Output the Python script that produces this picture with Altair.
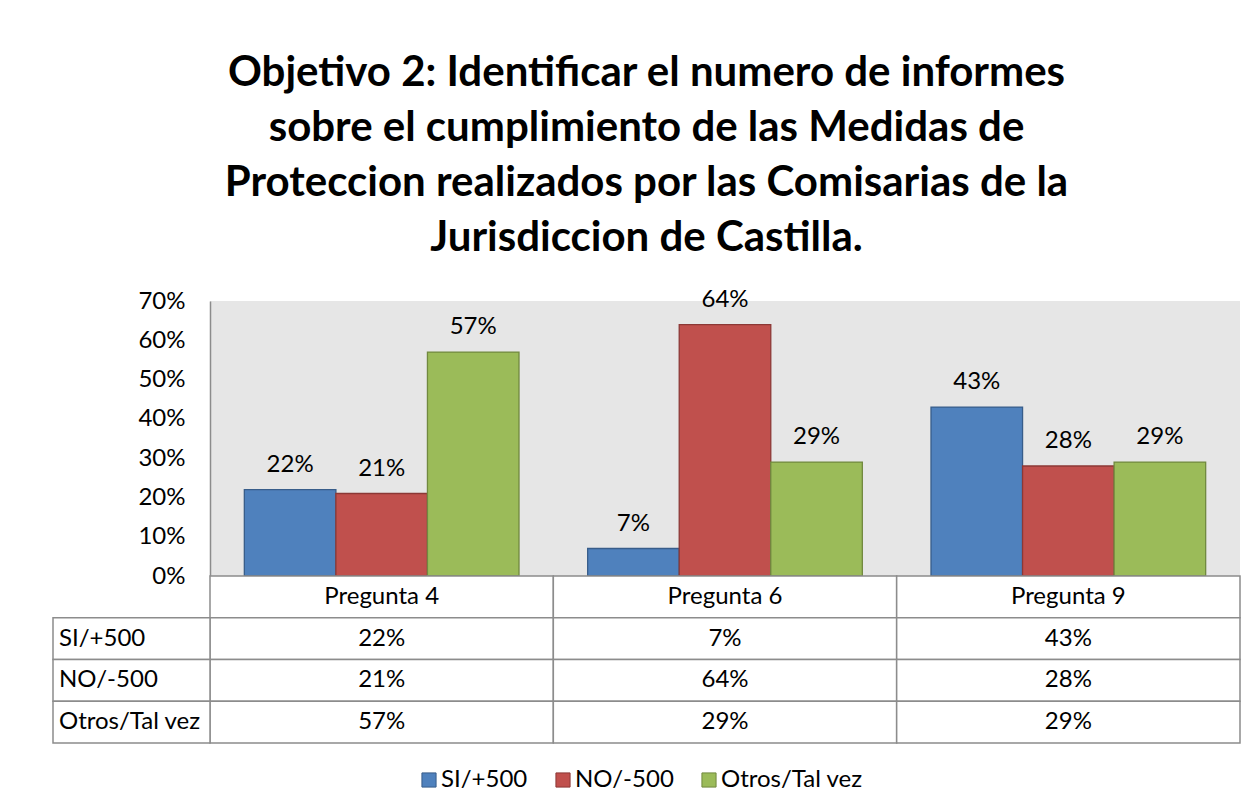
import altair as alt
import pandas as pd

questions = ["Pregunta 4", "Pregunta 6", "Pregunta 9"]
series = ["SI/+500", "NO/-500", "Otros/Tal vez"]
si_vals = [0.22, 0.07, 0.43]
no_vals = [0.21, 0.64, 0.28]
otros_vals = [0.57, 0.29, 0.29]
y_ticks = [0, 0.1, 0.2, 0.3, 0.4, 0.5, 0.6, 0.7]
title_lines = [
    "Objetivo 2: Identificar el numero de informes",
    "sobre el cumplimiento de las Medidas de",
    "Proteccion realizados por las Comisarias de la",
    "Jurisdiccion de Castilla.",
]
fills = ["#4F81BD", "#C0504D", "#9BBB59"]
strokes = ["#385D8A", "#8C3836", "#71893F"]

FONT = "Lato"
FS = 24
GRID = "#8c8c8c"
LABEL_W = 157

values = {"SI/+500": si_vals, "NO/-500": no_vals, "Otros/Tal vez": otros_vals}
rows = []
for s in series:
    for q, v in zip(questions, values[s]):
        rows.append({"question": q, "series": s, "value": v})
df = pd.DataFrame(rows)

row_keys = ["header"] + series
trows = []
for q in questions:
    trows.append({"question": q, "row": "header", "label": q})
for s in series:
    for q, v in zip(questions, values[s]):
        trows.append({"question": q, "row": s, "label": f"{round(v * 100)}%"})
tdf = pd.DataFrame(trows)
ldf = pd.DataFrame({"row": series})

legend = alt.Legend(
    title=None, orient="none", direction="horizontal",
    legendX=207, legendY=467,
    symbolType="square", symbolSize=200, symbolStrokeWidth=1,
    labelFont=FONT, labelFontSize=FS, labelColor="black",
    columnPadding=23, labelOffset=0,
)

xs = alt.X("question:N", sort=questions,
           scale=alt.Scale(paddingInner=0.2, paddingOuter=0.1), axis=None)
base = alt.Chart(df).encode(
    x=xs,
    xOffset=alt.XOffset("series:N", sort=series),
    y=alt.Y("value:Q", scale=alt.Scale(domain=[0, 0.7], nice=False),
            axis=alt.Axis(values=y_ticks, format=".0%", ticks=False, grid=False,
                          domainColor=GRID, domainWidth=1.5,
                          labelFont=FONT, labelFontSize=FS, labelColor="black",
                          labelPadding=25, minExtent=LABEL_W, maxExtent=LABEL_W, title=None)),
)
bars = base.mark_bar(strokeWidth=1.3).encode(
    fill=alt.Fill("series:N", sort=series, scale=alt.Scale(domain=series, range=fills), legend=legend),
    stroke=alt.Stroke("series:N", sort=series, scale=alt.Scale(domain=series, range=strokes), legend=legend),
)
labels = base.mark_text(dy=-18, baseline="alphabetic", font=FONT, fontSize=FS, color="black").encode(
    text=alt.Text("value:Q", format=".0%")
)
top = (bars + labels).properties(
    width=1030, height=275,
    view=alt.ViewBackground(fill="#e6e6e6", strokeWidth=0),
)

ys = alt.Y("row:N", sort=row_keys, axis=None,
           scale=alt.Scale(domain=row_keys, paddingInner=0, paddingOuter=0))
tbase = alt.Chart(tdf).encode(
    x=alt.X("question:N", sort=questions, axis=None,
            scale=alt.Scale(paddingInner=0, paddingOuter=0)),
    y=ys,
)
lbase = alt.Chart(ldf).encode(y=ys)
table = alt.layer(
    tbase.mark_rect(fill="white", stroke=GRID, strokeWidth=1.5),
    tbase.mark_text(font=FONT, fontSize=FS, color="black").encode(text="label:N"),
    lbase.mark_rect(fill="white", stroke=GRID, strokeWidth=1.5).encode(
        x=alt.value(-LABEL_W), x2=alt.value(0)),
    lbase.mark_text(align="left", font=FONT, fontSize=FS, color="black").encode(
        x=alt.value(-LABEL_W + 6), text="row:N"),
).properties(width=1030, height=167, view=alt.ViewBackground(strokeWidth=0))

chart = alt.vconcat(top, table, spacing=0, bounds="flush").properties(
    title=alt.TitleParams(text=title_lines, font=FONT, fontSize=42, fontWeight="bold",
                          color="black", lineHeight=54.7, anchor="middle", offset=28),
    padding={"left": 44, "top": 44, "right": 5, "bottom": 5},
).configure_view(strokeWidth=0).configure_concat(spacing=0)

chart.save("out.html", embed_options={"renderer": "svg", "actions": False})
